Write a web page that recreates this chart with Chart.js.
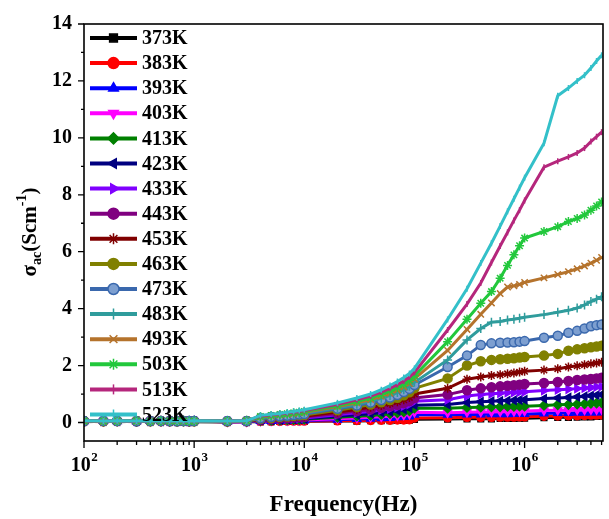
<!DOCTYPE html>
<html>
<head>
<meta charset="utf-8">
<script src="https://cdn.jsdelivr.net/npm/chart.js@4.4.1/dist/chart.umd.min.js"></script>
<style>
  html, body { margin: 0; padding: 0; background: #fff; }
  canvas { display: block; }
</style>
</head>
<body>
<canvas id="acChart" width="609" height="519"></canvas>
<script>
// sigma_ac vs frequency, one series per temperature

const frequencies = [
  100, 150, 200, 300, 400, 500, 600, 700, 800, 900, 1000,
  2000, 3000, 4000, 5000, 6000, 7000, 8000, 9000,
  1e4, 2e4, 3e4, 4e4, 5e4, 6e4, 7e4, 8e4, 9e4, 1e5,
  2e5, 3e5, 4e5, 5e5, 6e5, 7e5, 8e5, 9e5, 1e6,
  1.5e6, 2e6, 2.5e6, 3e6, 3.5e6, 4e6, 4.5e6, 5e6
];

const temperatures = ['373K', '383K', '393K', '403K', '413K', '423K', '433K', '443K',
  '453K', '463K', '473K', '483K', '493K', '503K', '513K', '523K'];

const s373 = [0.03, 0.04, 0.03, 0.04, 0.03, 0.04, 0.03, 0.04, 0.03, 0.04, 0.03,
  0.02, 0.03, 0.03, 0.03, 0.04, 0.04, 0.04, 0.04,
  0.04, 0.05, 0.05, 0.06, 0.06, 0.06, 0.07, 0.07, 0.08, 0.11,
  0.12, 0.13, 0.13, 0.13, 0.14, 0.14, 0.14, 0.15, 0.15,
  0.17, 0.18, 0.18, 0.19, 0.20, 0.20, 0.21, 0.22];
const s383 = [0.04, 0.03, 0.04, 0.03, 0.04, 0.03, 0.04, 0.03, 0.04, 0.03, 0.04,
  0.03, 0.03, 0.04, 0.04, 0.04, 0.05, 0.05, 0.05,
  0.05, 0.06, 0.07, 0.07, 0.08, 0.08, 0.09, 0.09, 0.10, 0.16,
  0.17, 0.18, 0.18, 0.18, 0.19, 0.19, 0.19, 0.20, 0.20,
  0.22, 0.23, 0.24, 0.24, 0.25, 0.26, 0.26, 0.27];
const s393 = [0.04, 0.05, 0.04, 0.04, 0.05, 0.04, 0.04, 0.05, 0.04, 0.04, 0.05,
  0.03, 0.03, 0.05, 0.05, 0.06, 0.06, 0.06, 0.07,
  0.07, 0.10, 0.12, 0.13, 0.15, 0.16, 0.18, 0.19, 0.21, 0.27,
  0.27, 0.28, 0.28, 0.29, 0.29, 0.29, 0.30, 0.30, 0.30,
  0.32, 0.33, 0.33, 0.34, 0.34, 0.35, 0.35, 0.36];
const s403 = [0.05, 0.04, 0.05, 0.05, 0.04, 0.05, 0.05, 0.04, 0.05, 0.05, 0.04,
  0.03, 0.03, 0.05, 0.06, 0.07, 0.07, 0.08, 0.08,
  0.09, 0.13, 0.16, 0.18, 0.20, 0.22, 0.24, 0.26, 0.29, 0.36,
  0.34, 0.36, 0.37, 0.37, 0.38, 0.38, 0.39, 0.39, 0.40,
  0.42, 0.43, 0.43, 0.44, 0.44, 0.45, 0.45, 0.46];
const s413 = [0.04, 0.05, 0.05, 0.04, 0.05, 0.05, 0.04, 0.05, 0.05, 0.04, 0.05,
  0.03, 0.04, 0.06, 0.07, 0.08, 0.09, 0.10, 0.10,
  0.11, 0.18, 0.22, 0.25, 0.28, 0.31, 0.34, 0.37, 0.41, 0.50,
  0.50, 0.53, 0.54, 0.55, 0.55, 0.56, 0.56, 0.57, 0.57,
  0.60, 0.62, 0.63, 0.64, 0.65, 0.67, 0.68, 0.69];
const s423 = [0.05, 0.05, 0.04, 0.05, 0.05, 0.04, 0.05, 0.05, 0.04, 0.05, 0.05,
  0.04, 0.04, 0.07, 0.08, 0.09, 0.10, 0.11, 0.12,
  0.13, 0.22, 0.27, 0.31, 0.35, 0.38, 0.42, 0.46, 0.51, 0.61,
  0.63, 0.70, 0.73, 0.75, 0.76, 0.77, 0.78, 0.79, 0.80,
  0.84, 0.86, 0.88, 0.90, 0.92, 0.94, 0.96, 0.98];
const s433 = [0.05, 0.04, 0.05, 0.05, 0.04, 0.05, 0.05, 0.04, 0.05, 0.05, 0.04,
  0.04, 0.04, 0.08, 0.10, 0.12, 0.13, 0.14, 0.15,
  0.16, 0.27, 0.34, 0.39, 0.44, 0.48, 0.53, 0.58, 0.64, 0.75,
  0.80, 0.93, 0.98, 1.01, 1.03, 1.05, 1.06, 1.07, 1.08,
  1.12, 1.15, 1.17, 1.19, 1.21, 1.23, 1.25, 1.26];
const s443 = [0.04, 0.05, 0.05, 0.04, 0.05, 0.05, 0.04, 0.05, 0.05, 0.04, 0.05,
  0.04, 0.04, 0.10, 0.12, 0.14, 0.15, 0.17, 0.18,
  0.19, 0.32, 0.40, 0.46, 0.52, 0.57, 0.62, 0.68, 0.75, 0.86,
  0.98, 1.13, 1.20, 1.24, 1.27, 1.29, 1.31, 1.33, 1.35,
  1.39, 1.42, 1.46, 1.49, 1.51, 1.53, 1.55, 1.57];
const s453 = [0.05, 0.05, 0.04, 0.05, 0.05, 0.04, 0.05, 0.05, 0.04, 0.05, 0.05,
  0.04, 0.05, 0.11, 0.14, 0.16, 0.18, 0.19, 0.21,
  0.22, 0.37, 0.46, 0.54, 0.60, 0.67, 0.73, 0.80, 0.88, 1.00,
  1.20, 1.52, 1.60, 1.65, 1.68, 1.71, 1.74, 1.77, 1.80,
  1.84, 1.89, 1.95, 1.99, 2.03, 2.06, 2.09, 2.12];
const s463 = [0.05, 0.04, 0.05, 0.05, 0.04, 0.05, 0.05, 0.04, 0.05, 0.05, 0.04,
  0.04, 0.05, 0.13, 0.16, 0.19, 0.21, 0.23, 0.25,
  0.26, 0.43, 0.54, 0.63, 0.71, 0.79, 0.87, 0.96, 1.06, 1.20,
  1.55, 2.00, 2.15, 2.20, 2.22, 2.24, 2.26, 2.28, 2.30,
  2.35, 2.41, 2.52, 2.57, 2.61, 2.64, 2.67, 2.70];
const s473 = [0.05, 0.05, 0.05, 0.04, 0.05, 0.05, 0.05, 0.04, 0.05, 0.05, 0.05,
  0.05, 0.05, 0.15, 0.19, 0.22, 0.24, 0.26, 0.28,
  0.30, 0.48, 0.60, 0.70, 0.79, 0.88, 0.97, 1.07, 1.18, 1.32,
  1.95, 2.35, 2.72, 2.78, 2.80, 2.81, 2.82, 2.84, 2.86,
  2.98, 3.05, 3.15, 3.22, 3.30, 3.38, 3.42, 3.44];
const s483 = [0.05, 0.05, 0.04, 0.05, 0.05, 0.05, 0.04, 0.05, 0.05, 0.05, 0.04,
  0.05, 0.05, 0.17, 0.21, 0.24, 0.26, 0.29, 0.31,
  0.33, 0.52, 0.64, 0.75, 0.85, 0.95, 1.05, 1.15, 1.27, 1.41,
  2.20, 2.90, 3.30, 3.52, 3.55, 3.60, 3.63, 3.66, 3.70,
  3.79, 3.87, 3.94, 4.02, 4.13, 4.25, 4.33, 4.42];
const s493 = [0.05, 0.04, 0.05, 0.05, 0.05, 0.04, 0.05, 0.05, 0.05, 0.04, 0.05,
  0.05, 0.06, 0.19, 0.23, 0.26, 0.29, 0.31, 0.34,
  0.36, 0.56, 0.69, 0.81, 0.92, 1.03, 1.14, 1.25, 1.37, 1.53,
  2.53, 3.27, 3.80, 4.20, 4.53, 4.76, 4.80, 4.85, 4.92,
  5.08, 5.20, 5.30, 5.40, 5.50, 5.60, 5.70, 5.80];
const s503 = [0.05, 0.05, 0.05, 0.05, 0.04, 0.05, 0.05, 0.05, 0.05, 0.04, 0.05,
  0.05, 0.06, 0.21, 0.25, 0.28, 0.31, 0.34, 0.36,
  0.39, 0.60, 0.74, 0.87, 0.99, 1.11, 1.23, 1.35, 1.48, 1.64,
  2.84, 3.63, 4.19, 4.60, 5.07, 5.52, 5.89, 6.21, 6.48,
  6.71, 6.88, 7.06, 7.17, 7.29, 7.46, 7.61, 7.75];
const s513 = [0.05, 0.05, 0.05, 0.04, 0.05, 0.05, 0.05, 0.05, 0.04, 0.05, 0.05,
  0.05, 0.06, 0.23, 0.27, 0.30, 0.33, 0.36, 0.39,
  0.42, 0.64, 0.80, 0.93, 1.07, 1.20, 1.33, 1.46, 1.60, 1.76,
  3.25, 4.16, 4.90, 5.62, 6.20, 6.68, 7.10, 7.46, 7.80,
  8.97, 9.18, 9.33, 9.47, 9.64, 9.87, 10.04, 10.20];
const s523 = [0.06, 0.05, 0.06, 0.05, 0.06, 0.05, 0.06, 0.05, 0.06, 0.05, 0.06,
  0.05, 0.06, 0.25, 0.29, 0.32, 0.36, 0.39, 0.42,
  0.45, 0.69, 0.86, 1.00, 1.15, 1.30, 1.44, 1.58, 1.72, 1.90,
  3.62, 4.70, 5.60, 6.30, 6.90, 7.42, 7.86, 8.25, 8.60,
  9.81, 11.48, 11.75, 12.00, 12.20, 12.45, 12.70, 12.90];

const seriesValues = [s373, s383, s393, s403, s413, s423, s433, s443,
  s453, s463, s473, s483, s493, s503, s513, s523];

const xTickValues = [1e2, 1e3, 1e4, 1e5, 1e6];
const yTickValues = [0, 2, 4, 6, 8, 10, 12, 14];

// styles, one entry per temperature
const lineColors = ['#000000', '#ff0000', '#0000ff', '#ff00ff', '#008000', '#000080', '#8000ff', '#800080',
  '#800000', '#808000', '#3a68ad', '#2f9c9c', '#b5732c', '#22c83c', '#b5267c', '#33c0c9'];
const markerFills = ['#000000', '#ff0000', '#0000ff', '#ff00ff', '#008000', '#000080', '#8000ff', '#800080',
  '#800000', '#808000', '#7d9fd0', '#2f9c9c', '#b5732c', '#22c83c', '#b5267c', '#33c0c9'];
const markerStyles = ['rect', 'circle', 'triangle', 'triangle', 'rectRot', 'triangle', 'triangle', 'circle',
  'star', 'circle', 'circle', 'cross', 'crossRot', 'star', 'line', 'line'];
const markerRotations = [0, 0, 0, 180, 0, 270, 90, 0, 0, 0, 0, 0, 0, 0, 90, 90];
const markerRadius = [4, 4, 4.5, 4.5, 4.5, 4.5, 4.5, 4.5, 4.5, 4.5, 4.5, 4.5, 4.5, 4.5, 3, 3];

const SERIF = '"Liberation Serif", "Times New Roman", serif';

const datasets = temperatures.map((t, i) => ({
  label: t,
  data: frequencies.map((f, j) => ({ x: f, y: seriesValues[i][j] })),
  borderColor: lineColors[i],
  backgroundColor: lineColors[i],
  pointBackgroundColor: markerFills[i],
  pointBorderColor: lineColors[i],
  pointStyle: markerStyles[i],
  rotation: markerRotations[i],
  pointRadius: markerRadius[i],
  pointBorderWidth: 1.5,
  borderWidth: 3,
  tension: 0,
  // later temperatures on top
  order: temperatures.length - 1 - i
}));

// Legend drawn inside the plot, top-left, like the original figure
const insideLegend = {
  id: 'insideLegend',
  afterDatasetsDraw(chart) {
    const { ctx, chartArea } = chart;
    const x0 = chartArea.left + 6;
    ctx.save();
    chart.data.datasets.forEach((ds, i) => {
      const y = chartArea.top + 14 + i * 25.1;
      ctx.strokeStyle = ds.borderColor;
      ctx.lineWidth = 4;
      ctx.beginPath();
      ctx.moveTo(x0, y);
      ctx.lineTo(x0 + 47, y);
      ctx.stroke();
      ctx.fillStyle = ds.pointBackgroundColor;
      ctx.strokeStyle = ds.pointBorderColor;
      ctx.lineWidth = 1.5;
      Chart.helpers.drawPoint(ctx, {
        pointStyle: ds.pointStyle,
        rotation: ds.rotation,
        radius: ds.pointStyle === 'line' ? 5 : 5.5,
        borderWidth: 1.5
      }, x0 + 23.5, y);
      ctx.fillStyle = '#000';
      ctx.font = 'bold 20px ' + SERIF;
      ctx.textAlign = 'left';
      ctx.textBaseline = 'middle';
      ctx.fillText(ds.label, x0 + 52, y + 1);
    });
    ctx.restore();
  }
};

// Frame, outward ticks, x labels with superscripts, y title with sub/superscripts
const frameAndLabels = {
  id: 'frameAndLabels',
  afterDraw(chart) {
    const { ctx, chartArea } = chart;
    const xs = chart.scales.x, ys = chart.scales.y;
    const L = chartArea.left, R = chartArea.right, T = chartArea.top, B = chartArea.bottom;
    ctx.save();
    ctx.strokeStyle = '#000';
    ctx.lineWidth = 1.6;
    ctx.strokeRect(L, T, R - L, B - T);

    ctx.lineWidth = 1.3;
    ctx.beginPath();
    // y ticks (major every 2, minor every 1)
    for (let v = 0; v <= 14; v++) {
      const py = ys.getPixelForValue(v);
      const len = v % 2 === 0 ? 6 : 3;
      ctx.moveTo(L - len, py);
      ctx.lineTo(L, py);
    }
    // x ticks: decades major, 2..9 minor
    for (let d = 2; d <= 6; d++) {
      for (let m = 1; m <= 9; m++) {
        const v = m * Math.pow(10, d);
        if (v > xs.max) break;
        const px = xs.getPixelForValue(v);
        const len = m === 1 ? 7 : 4;
        ctx.moveTo(px, B);
        ctx.lineTo(px, B + len);
      }
    }
    ctx.stroke();

    // x tick labels 10^n
    ctx.fillStyle = '#000';
    ctx.textBaseline = 'alphabetic';
    ctx.textAlign = 'left';
    xTickValues.forEach(v => {
      const px = xs.getPixelForValue(v);
      const exp = String(Math.round(Math.log10(v)));
      ctx.font = 'bold 20px ' + SERIF;
      const w1 = ctx.measureText('10').width;
      ctx.font = 'bold 13px ' + SERIF;
      const w2 = ctx.measureText(exp).width;
      const start = px - (w1 + w2) / 2;
      ctx.font = 'bold 20px ' + SERIF;
      ctx.fillText('10', start, B + 30);
      ctx.font = 'bold 13px ' + SERIF;
      ctx.fillText(exp, start + w1 + 0.5, B + 20);
    });

    // x title
    ctx.font = 'bold 23px ' + SERIF;
    ctx.textAlign = 'center';
    ctx.fillText('Frequency(Hz)', (L + R) / 2, B + 70);

    // y title, rotated
    const parts = [
      { t: '\u03c3', size: 21, dy: 0 },
      { t: 'ac', size: 14, dy: 5 },
      { t: '(Scm', size: 21, dy: 0 },
      { t: '-1', size: 14, dy: -10 },
      { t: ')', size: 21, dy: 0 }
    ];
    let total = 0;
    parts.forEach(p => {
      ctx.font = 'bold ' + p.size + 'px ' + SERIF;
      p.w = ctx.measureText(p.t).width;
      total += p.w;
    });
    ctx.translate(36, 232);
    ctx.rotate(-Math.PI / 2);
    ctx.textAlign = 'left';
    let cx = -total / 2;
    parts.forEach(p => {
      ctx.font = 'bold ' + p.size + 'px ' + SERIF;
      ctx.fillText(p.t, cx, p.dy);
      cx += p.w;
    });
    ctx.restore();
  }
};

new Chart(document.getElementById('acChart').getContext('2d'), {
  type: 'line',
  data: { datasets: datasets },
  options: {
    responsive: false,
    animation: false,
    devicePixelRatio: 1,
    layout: { padding: { top: 15, right: 1, left: 0, bottom: 0 } },
    plugins: {
      legend: { display: false },
      tooltip: { enabled: false },
      title: { display: false }
    },
    scales: {
      x: {
        type: 'logarithmic',
        min: 100,
        max: 5.15e6,
        grid: { display: false, drawTicks: false },
        border: { display: false },
        ticks: { display: false },
        afterFit(scale) { scale.height = 78; }
      },
      y: {
        type: 'linear',
        min: -0.65,
        max: 14,
        grid: { display: false, drawTicks: false },
        border: { display: false },
        afterBuildTicks(scale) { scale.ticks = yTickValues.map(v => ({ value: v })); },
        afterFit(scale) { scale.width = 84; },
        ticks: {
          color: '#000',
          padding: 12,
          font: { family: SERIF, size: 20, weight: 'bold' }
        }
      }
    }
  },
  plugins: [insideLegend, frameAndLabels]
});
</script>
</body>
</html>
